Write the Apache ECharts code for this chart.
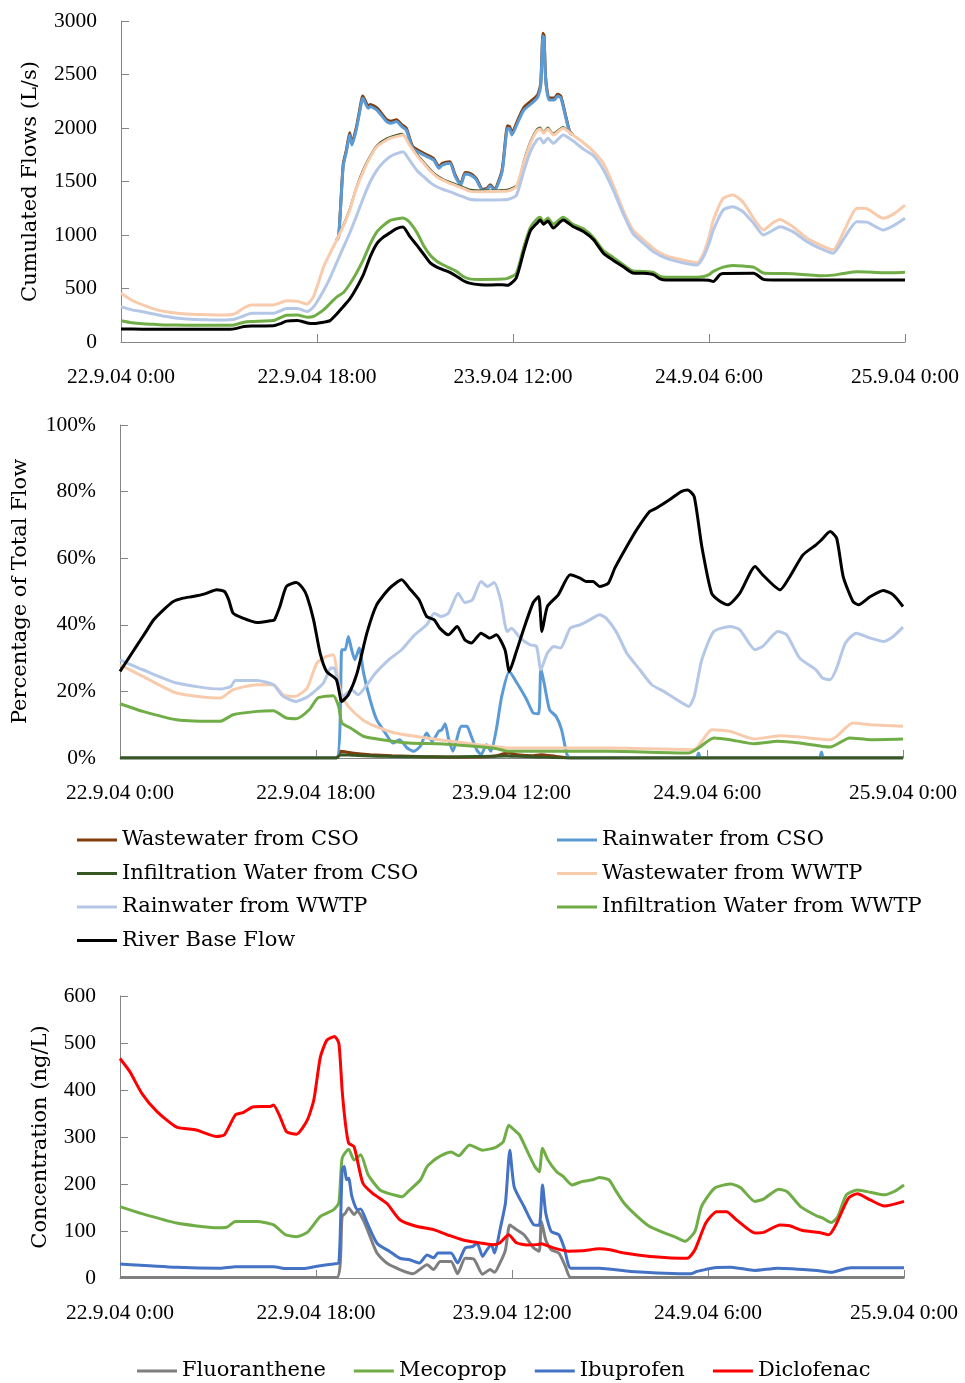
<!DOCTYPE html>
<html>
<head>
<meta charset="utf-8">
<script src="https://cdn.jsdelivr.net/npm/echarts@6/dist/echarts.min.js"></script>
<style>
html,body{margin:0;padding:0;background:#fff;}
#chart{width:965px;height:1383px;}
</style>
</head>
<body>
<div id="chart"></div>
<script>
// ---------- Time axis (hours since 22.9.04 0:00) ----------
const timeTicks = [0, 18, 36, 54, 72];
const timeTickLabels = ['22.9.04 0:00', '22.9.04 18:00', '23.9.04 12:00', '24.9.04 6:00', '25.9.04 0:00'];

// ---------- Panel 1: cumulated flows (L/s), [hour, value] ----------
const riverCum = [[0,121],[2,120],[10,120],[10.5,125],[11.3,145],[12,150],[14,152],[14.6,170],[15.2,195],[16.2,200],[17.1,178],[17.7,172],[18.6,185],[19.2,200],[19.8,260],[20.4,330],[21.0,400],[21.6,500],[22.3,640],[22.9,800],[23.5,920],[24.1,980],[24.7,1020],[25.3,1060],[25.9,1075],[26.5,990],[27.2,900],[27.8,820],[28.4,740],[29.0,700],[29.6,675],[30.2,650],[30.8,615],[31.4,575],[32.0,550],[33,535],[34,533],[35,535],[35.5,530],[36.3,600],[37.0,850],[37.6,1040],[38.2,1110],[38.5,1140],[38.8,1100],[39.2,1130],[39.7,1065],[40.6,1140],[41.5,1080],[42.5,1030],[43.4,955],[44.3,830],[45.2,765],[46.1,705],[47.0,645],[48.0,642],[48.9,630],[49.5,590],[50.1,580],[53.5,580],[54.0,578],[54.4,565],[55.0,630],[55.3,640],[58.1,642],[59.0,585],[59.8,580],[72,580]];
const infWwtpCum = [[0,199],[1,180],[2,170],[3,165],[4,160],[6,157],[10,156],[10.5,162],[11.3,185],[12,192],[14,200],[14.6,225],[15.2,250],[16.2,252],[17.1,232],[17.7,240],[18.6,300],[19.2,360],[19.8,420],[20.4,460],[21.0,540],[21.6,640],[22.3,780],[22.9,920],[23.5,1030],[24.1,1090],[24.7,1135],[25.3,1150],[25.9,1160],[26.5,1120],[27.2,1020],[27.8,900],[28.4,810],[29.0,755],[29.6,720],[30.2,690],[30.8,660],[31.4,615],[32.0,590],[33,585],[35,588],[35.5,595],[36.3,640],[37.0,890],[37.6,1070],[38.2,1150],[38.5,1165],[38.8,1120],[39.2,1160],[39.7,1100],[40.6,1165],[41.5,1100],[42.5,1055],[43.4,975],[44.3,855],[45.2,790],[46.1,725],[47.0,665],[48.0,660],[48.9,650],[49.5,612],[50.1,605],[52.9,605],[53.5,612],[54.0,630],[54.4,660],[55.3,700],[56.2,715],[57.1,710],[58.1,700],[59.0,645],[60.5,640],[61.7,638],[63.0,628],[64.2,620],[65.4,625],[66.3,640],[67.6,657],[68.5,655],[70,648],[71,648],[72,652]];
const rainWwtpCum = [[0,330],[1,300],[2,283],[3,262],[4,240],[5,225],[6,215],[7,210],[8,207],[9,206],[10,208],[10.5,215],[11.3,245],[12,268],[14,268],[14.6,290],[15.2,312],[16.2,312],[17.1,285],[17.7,330],[18.6,480],[19.2,600],[19.8,740],[20.4,880],[21.0,1016],[21.6,1170],[22.3,1358],[22.9,1500],[23.5,1607],[24.1,1680],[24.7,1732],[25.3,1760],[25.9,1779],[26.5,1700],[27.2,1600],[27.8,1545],[28.4,1490],[29.0,1451],[29.6,1425],[30.2,1405],[30.8,1380],[31.4,1358],[32.0,1335],[33,1327],[35,1330],[35.5,1332],[36.3,1370],[37.0,1600],[37.6,1780],[38.2,1890],[38.5,1904],[38.8,1860],[39.2,1904],[39.7,1857],[40.6,1935],[41.5,1880],[42.5,1800],[43.4,1740],[44.3,1610],[45.2,1421],[46.1,1203],[47.0,1016],[48.0,922],[48.9,844],[50.1,782],[51.6,741],[52.9,720],[53.5,797],[54.0,920],[54.4,1047],[55.3,1234],[56.2,1265],[57.1,1220],[58.1,1109],[59.0,1000],[59.8,1040],[60.5,1078],[61.7,1031],[63.0,938],[64.2,875],[65.4,829],[66.3,953],[67.6,1125],[68.5,1120],[70,1047],[71,1090],[72,1156]];
const wwWwtpCum = [[0,455],[1,390],[2,346],[3,310],[4,285],[5,270],[6,262],[7,258],[8,255],[9,252],[10,255],[10.5,265],[11.3,320],[12,346],[14,346],[14.6,365],[15.2,386],[16.2,380],[17.1,355],[17.7,430],[18.6,700],[19.2,830],[19.8,950],[20.4,1080],[21.0,1230],[21.6,1430],[22.3,1607],[22.9,1730],[23.5,1826],[24.1,1870],[24.7,1904],[25.3,1920],[25.9,1935],[26.5,1841],[27.2,1740],[27.8,1670],[28.4,1600],[29.0,1545],[29.6,1510],[30.2,1483],[30.8,1460],[31.4,1436],[32.0,1410],[33,1405],[35,1408],[35.5,1410],[36.3,1450],[37.0,1680],[37.6,1860],[38.2,1975],[38.5,1990],[38.8,1950],[39.2,1990],[39.7,1935],[40.6,1997],[41.5,1935],[42.5,1860],[43.4,1779],[44.3,1670],[45.2,1467],[46.1,1234],[47.0,1047],[48.0,953],[48.9,875],[50.1,804],[51.6,766],[52.9,741],[53.5,829],[54.0,980],[54.4,1140],[55.3,1343],[56.2,1374],[57.1,1311],[58.1,1156],[59.0,1047],[59.8,1110],[60.5,1146],[61.7,1078],[63.0,969],[64.2,907],[65.4,860],[66.3,1016],[67.6,1249],[68.5,1245],[70,1156],[71,1200],[72,1280]];
const infCsoCum = [[19.8,950],[20.0,992],[20.4,1092],[20.7,1162],[21.0,1242],[21.6,1442],[22.2,1602],[22.9,1742],[23.5,1838],[24.4,1902],[25.3,1934],[25.8,1947],[26.2,1902],[26.8,1802],[27.8,1682],[28.7,1582],[29.5,1527],[30.2,1495],[31.2,1457],[32.1,1422],[33.2,1416],[34.3,1417],[35.0,1420],[35.5,1422],[36.4,1472],[37.0,1694],[37.6,1874],[38.2,1990],[38.5,2004],[38.8,1962],[39.2,2004],[39.7,1947],[40.6,2010],[41.2,1960],[41.5,1935]];
const rainCsoCum = [[19.8,950],[20.0,992],[20.4,1638],[20.7,1779],[21.0,1935],[21.2,1841],[21.6,1981],[22.1,2246],[22.2,2277],[22.7,2184],[22.9,2200],[23.5,2168],[24.4,2059],[24.8,2045],[25.3,2060],[25.8,2012],[26.2,1981],[26.8,1810],[27.8,1748],[28.7,1701],[29.2,1623],[29.5,1654],[30.2,1670],[30.7,1545],[31.2,1467],[31.6,1570],[32.1,1560],[32.6,1520],[33.2,1418],[33.6,1425],[33.9,1458],[34.3,1418],[35.0,1592],[35.5,1997],[35.7,1990],[35.9,1935],[36.4,2044],[37.0,2168],[37.9,2246],[38.3,2293],[38.55,2400],[38.75,2860],[38.85,2840],[39.0,2449],[39.3,2262],[39.8,2262],[40.1,2299],[40.4,2280],[40.9,2075],[41.2,1960],[41.5,1935]];
const wwCsoCum = [[19.8,950],[20.0,995],[20.4,1655],[20.7,1795],[21.0,1955],[21.2,1860],[21.6,2000],[22.1,2268],[22.2,2300],[22.7,2205],[22.9,2220],[23.5,2188],[24.4,2078],[24.8,2064],[25.3,2078],[25.8,2030],[26.2,1998],[26.8,1826],[27.8,1764],[28.7,1716],[29.2,1638],[29.5,1669],[30.2,1684],[30.7,1559],[31.2,1480],[31.6,1583],[32.1,1573],[32.6,1532],[33.2,1428],[33.6,1436],[33.9,1470],[34.3,1428],[35.0,1610],[35.5,2020],[35.7,2012],[35.9,1955],[36.4,2065],[37.0,2192],[37.9,2272],[38.3,2318],[38.55,2425],[38.75,2885],[38.85,2865],[39.0,2470],[39.3,2280],[39.8,2280],[40.1,2315],[40.4,2295],[40.9,2088],[41.2,1968],[41.5,1935]];

// ---------- Panel 2: percentage of total flow (%), [hour, value] ----------
const riverPct = [[0,26],[0.8,30],[1.5,33.5],[2.3,37.5],[3.1,41.5],[4.0,44.5],[4.9,47],[5.8,48],[6.7,48.5],[7.8,49.3],[8.9,50.5],[9.6,50],[10.0,47.5],[10.4,43.5],[11.3,42],[12.6,40.7],[13.8,41.2],[14.2,41.5],[14.7,45.5],[15.3,51.5],[16.2,52.7],[16.8,51],[17.2,48.5],[17.8,41.5],[18.4,31.5],[19.0,26],[19.9,23.5],[20.4,17],[21.0,19],[21.8,25.5],[22.7,37.5],[23.6,46],[24.8,51],[25.9,53.5],[26.6,51],[27.5,47.5],[28.2,42.5],[28.9,41.5],[29.4,39],[30.2,37],[31.0,39.5],[31.7,35.5],[32.3,34.5],[33.2,37.5],[34.0,36],[34.6,37],[35.4,32.5],[35.8,26],[36.4,31.5],[37.2,39.5],[38.0,46.7],[38.5,48.5],[38.8,38],[39.3,45.5],[40.3,49],[41.4,55],[42.3,54],[42.9,53],[43.5,53],[44.1,51.5],[44.9,52.5],[45.5,57],[46.6,63.5],[47.5,68.5],[48.7,74],[49.3,75],[50.6,77.7],[51.6,80],[52.2,80.5],[52.8,78.5],[53.5,63.5],[54.4,49.5],[55.2,47],[55.9,46],[57.0,49.5],[58.4,57.5],[59.1,55],[60.7,50.5],[61.6,54.5],[62.8,61],[64.0,64],[64.5,65.5],[65.3,68],[65.9,66],[66.5,54.5],[67.4,47],[67.9,46],[69.0,48.5],[70.2,50.3],[71.1,49],[72,45.5]];
const rainWwtpPct = [[0,29.5],[2.1,26.5],[5.2,22.5],[9.2,20.7],[10.2,21.5],[10.6,23.3],[12.6,23.3],[14.1,22],[15.0,18.5],[16.2,17],[17.3,18.5],[18.7,22.5],[19.4,27],[19.7,27],[20.1,21.5],[20.4,18.5],[20.7,19],[21.3,20.5],[21.9,19],[22.6,21.5],[23.5,25.5],[24.7,29.5],[25.9,32.5],[27.1,37],[28.2,40],[28.9,43.5],[29.5,42.5],[30.2,43.5],[31.1,49.5],[31.7,46.7],[32.4,47.5],[33.2,53],[33.8,51.5],[34.4,52.7],[35.0,47.5],[35.6,38],[36.0,39],[36.8,36],[37.7,34],[38.3,33.5],[38.7,26.5],[39.3,31.5],[39.9,33.5],[40.5,33],[41.4,39],[42.3,40],[43.2,41.5],[44.1,43],[44.7,42],[45.7,37.5],[46.6,31.5],[47.8,26.5],[48.9,22],[50.0,20],[51.2,17.5],[52.3,15.5],[52.8,18.5],[53.5,29.5],[54.6,38],[56.1,39.5],[57.0,38.5],[58.4,32.5],[59.1,33.5],[60.5,38],[61.3,37],[62.5,30],[64.0,26.5],[64.6,24],[65.3,23.5],[65.9,27],[66.7,34.5],[67.7,37.5],[69.0,36],[70.2,35],[71.1,36.5],[72,39.3]];
const wwWwtpPct = [[0,28],[2.1,24.5],[5.2,19.5],[9.2,18],[10.4,20.5],[12.6,22],[14.1,22],[15.0,19],[16.1,18.5],[17.2,21],[18.1,28.5],[19.0,30.5],[19.6,31],[20.1,22.5],[20.4,19],[21.0,15.5],[22.3,11.5],[23.5,9.5],[25.3,7.5],[28.2,6],[31.2,4.7],[34.3,3.5],[35.8,3],[40,3],[45,3],[52.8,2.5],[53.5,5],[54.4,8.5],[56.1,8],[58.3,5.7],[60.7,6.7],[62.5,6.3],[65.3,5.5],[65.9,6.5],[67.4,10.5],[69.0,10],[72,9.5]];
const infWwtpPct = [[0,16.3],[2.1,14],[5.2,11.5],[9.2,11],[10.4,13],[12.6,14],[14.1,14.2],[15.3,12],[16.2,11.8],[17.4,14.5],[18.2,18],[19.6,18.7],[20.1,15.5],[20.4,10.5],[21.2,9],[22.4,6.5],[24.1,5.5],[26.6,4.5],[29.7,4.2],[34.3,3],[35.8,2],[45,2],[52.3,1.5],[53.2,3],[54.6,6],[56.1,5.5],[58.3,4.3],[60.5,5],[62.5,4.5],[65.3,3.3],[67.1,6],[69,5.5],[72,5.7]];
const rainCsoPct = [[0,0],[19.9,0],[20.4,32.5],[20.7,32.5],[21.0,36.5],[21.3,32.5],[21.6,29.5],[22.0,33],[22.4,25.5],[23.0,17.5],[23.6,11.5],[24.4,7.5],[25.1,4.5],[25.7,5.5],[26.4,3],[27.0,2],[27.6,3.5],[28.2,7.5],[28.7,5],[29.3,8],[29.6,8.5],[29.9,10.3],[30.2,6],[30.6,2],[31.4,9.5],[31.9,9.5],[32.3,6.5],[32.8,2.5],[33.2,1],[33.7,4],[34.1,2],[34.6,8.5],[35.1,18.5],[35.8,26],[36.5,22.5],[37.4,17.5],[38.0,13.5],[38.5,13.3],[38.7,27],[39.0,22.5],[39.5,14.5],[40.1,12.5],[40.6,8.5],[41.1,1],[41.4,0],[53.0,0],[53.2,1.5],[53.4,0],[64.3,0],[64.5,1.8],[64.7,0],[72,0]];
const wwCsoPct = [[0,0],[19.9,0],[20.3,2],[20.8,1.8],[21.5,1.4],[23,1],[25,0.7],[28,0.4],[30,0.3],[33,0.3],[34.5,0.6],[35.3,1.3],[35.8,1.5],[36.5,1],[38,0.7],[38.7,1],[40,0.5],[41.4,0],[72,0]];
const infCsoPct = [[0,0],[19.9,0],[20.3,1],[21.5,0.8],[24,0.5],[30,0.3],[35.5,0.6],[36.5,0.5],[38,0.4],[41.4,0],[72,0]];

// ---------- Panel 3: concentrations (ng/L), [hour, value] ----------
const fluoranthene = [[0,1],[19.9,1],[20.4,131],[20.7,138],[21.0,149],[21.5,135],[21.8,142],[22.1,134],[22.6,110],[23.6,53],[24.5,32],[25.7,18],[26.9,9],[28.2,28],[28.8,18],[29.4,35],[30.4,35],[31.0,9],[31.7,42],[32.5,40],[33.3,8],[34.0,18],[34.4,12],[34.9,32],[35.4,60],[35.8,113],[36.4,103],[37.1,92],[38.0,64],[38.5,57],[38.7,120],[39.1,81],[39.6,60],[40.3,53],[40.9,25],[41.4,1],[72,1]];
const mecoprop = [[0,152],[2.0,137],[5.2,117],[8.9,107],[9.8,108],[10.6,120],[12.6,120],[14.1,113],[15.2,92],[16.2,88],[17.2,97],[18.4,131],[19.6,145],[20.1,160],[20.4,255],[21.0,274],[21.5,251],[22.1,262],[22.8,219],[23.9,187],[25.1,177],[25.9,173],[26.5,185],[27.6,209],[28.2,237],[29.1,255],[30.4,268],[31.1,260],[32.1,283],[33.3,272],[34.5,278],[35.2,290],[35.7,325],[36.2,315],[36.7,304],[37.5,265],[38.1,237],[38.5,226],[38.8,276],[39.3,251],[40.1,226],[40.7,216],[41.5,198],[42.4,205],[43.4,209],[44.0,214],[44.9,209],[45.5,187],[46.3,159],[47.5,131],[48.6,110],[50.0,96],[51.2,85],[51.9,78],[52.8,99],[53.4,152],[54.6,191],[56.1,200],[57.0,192],[58.3,163],[59.1,168],[60.5,189],[61.3,183],[62.5,152],[64.0,132],[64.5,128],[65.3,118],[65.9,130],[66.7,177],[67.7,187],[69.0,182],[70.2,177],[71.1,184],[72,198]];
const ibuprofen = [[0,30],[5.2,23],[9.2,21],[10.6,24],[14.1,24],[15.3,20],[16.8,20],[18.1,25],[19.6,30],[20.1,32],[20.4,230],[20.6,237],[20.8,209],[21.0,212],[21.3,173],[21.8,145],[22.1,147],[22.7,117],[23.6,74],[24.8,56],[25.7,42],[26.6,39],[27.5,32],[28.2,49],[28.8,43],[29.2,53],[30.4,53],[31.0,32],[31.7,64],[32.4,67],[32.8,74],[33.3,46],[33.7,60],[34.1,71],[34.4,53],[34.9,103],[35.4,160],[35.8,272],[36.2,194],[37.1,152],[38.0,113],[38.5,112],[38.8,198],[39.1,138],[39.6,99],[40.3,92],[40.8,64],[41.4,21],[44,21],[46.9,14],[52.4,9],[53.0,14],[54.6,22],[56.1,23],[58.3,16],[60.4,21],[64.0,16],[65.3,12],[67.1,22],[72,22]];
const diclofenac = [[0,467],[0.9,439],[2.0,393],[3.4,354],[5.2,321],[7.0,315],[8.9,301],[9.6,305],[10.6,347],[11.3,352],[12.2,364],[13.8,365],[14.1,368],[14.7,343],[15.3,311],[16.2,306],[17.2,336],[17.8,379],[18.4,470],[19.0,506],[19.7,514],[20.1,499],[20.4,400],[20.7,329],[21.0,287],[21.5,279],[22.3,202],[23.2,180],[24.5,159],[25.7,124],[27.2,110],[28.8,103],[30.3,90],[31.5,81],[32.7,76],[34.3,71],[34.9,75],[35.7,92],[36.4,75],[37.4,70],[38.3,71],[38.7,73],[39.8,64],[41.2,57],[42.5,58],[44.0,62],[45,60],[46.3,53],[48.7,46],[52.1,42],[52.8,60],[53.8,117],[54.8,141],[55.7,141],[56.6,124],[58.3,96],[59.1,97],[60.6,113],[61.5,111],[62.7,101],[64.2,97],[65.1,92],[65.7,111],[66.9,170],[67.7,179],[68.9,166],[70.2,153],[72,163]];

// ---------- Names & colours ----------
const flowNames = ['Wastewater from CSO','Rainwater from CSO','Infiltration Water from CSO','Wastewater from WWTP','Rainwater from WWTP','Infiltration Water from WWTP','River Base Flow'];
const flowColors = ['#843C0C','#5B9BD5','#385723','#F8CBAD','#B4C7E7','#70AD47','#000000'];
const chemNames = ['Fluoranthene','Mecoprop','Ibuprofen','Diclofenac'];
const chemColors = ['#7F7F7F','#70AD47','#4472C4','#FF0000'];

const NUM_FONT = 'Liberation Serif';
const TXT_FONT = 'DejaVu Serif';
const AXIS_COLOR = '#858585';

const chart = echarts.init(document.getElementById('chart'), null, {renderer:'canvas'});

function xAxis(gridIndex){
  return {
    type:'value', gridIndex, min:0, max:72, interval:18,
    axisLine:{show:true, lineStyle:{color:AXIS_COLOR, width:1}},
    axisTick:{show:true, inside:true, length:8, lineStyle:{color:AXIS_COLOR}},
    splitLine:{show:false},
    axisLabel:{
      margin:24, color:'#000', fontFamily:NUM_FONT, fontSize:21.5,
      formatter:(v)=>{const i = timeTicks.indexOf(v); return i>=0 ? timeTickLabels[i] : '';}
    }
  };
}
function yAxis(gridIndex, max, interval, name, nameGap, suffix){
  return {
    type:'value', gridIndex, min:0, max, interval,
    name, nameLocation:'middle', nameGap,
    nameTextStyle:{fontFamily:TXT_FONT, fontSize:21, color:'#000'},
    axisLine:{show:true, lineStyle:{color:AXIS_COLOR, width:1}},
    axisTick:{show:true, inside:true, length:8, lineStyle:{color:AXIS_COLOR}},
    splitLine:{show:false},
    axisLabel:{margin:24, color:'#000', fontFamily:NUM_FONT, fontSize:21.5,
      formatter:(v)=>String(Math.round(v)) + suffix}
  };
}
function line(name, data, color, idx, width){
  return {
    type:'line', name, data, xAxisIndex:idx, yAxisIndex:idx,
    showSymbol:false, symbol:'none', smooth:0.2, color,
    lineStyle:{color, width: width || 3},
    emphasis:{disabled:true}, z: 2
  };
}

const flowCum = [wwCsoCum, rainCsoCum, infCsoCum, wwWwtpCum, rainWwtpCum, infWwtpCum, riverCum];
const flowPct = [wwCsoPct, rainCsoPct, infCsoPct, wwWwtpPct, rainWwtpPct, infWwtpPct, riverPct];
const chemData = [fluoranthene, mecoprop, ibuprofen, diclofenac];

const series = [];
flowCum.forEach((d,i)=>series.push(line(flowNames[i], d, flowColors[i], 0, i===2 ? 2 : 3)));
flowPct.forEach((d,i)=>series.push(line(flowNames[i], d, flowColors[i], 1, 3)));
chemData.forEach((d,i)=>series.push(line(chemNames[i], d, chemColors[i], 2, 3)));

const legendText = {fontFamily:TXT_FONT, fontSize:21, color:'#000', lineHeight:24};
const gridBase = {containLabel:false, outerBoundsMode:'none'};

chart.setOption({
  animation:false,
  backgroundColor:'#fff',
  grid:[
    Object.assign({left:121, top:21, width:784, height:321}, gridBase),
    Object.assign({left:120, top:425, width:783, height:333}, gridBase),
    Object.assign({left:120, top:996, width:784, height:282}, gridBase)
  ],
  xAxis:[xAxis(0), xAxis(1), xAxis(2)],
  yAxis:[
    yAxis(0, 3000, 500, 'Cumulated Flows (L/s)', 80, ''),
    yAxis(1, 100, 20, 'Percentage of Total Flow', 89, '%'),
    yAxis(2, 600, 100, 'Concentration (ng/L)', 69, '')
  ],
  legend:[
    {orient:'vertical', left:77, top:828, padding:0, itemGap:9.5, itemWidth:40, itemHeight:3, icon:'rect',
     data:[flowNames[0], flowNames[2], flowNames[4], flowNames[6]], textStyle:legendText, selectedMode:false},
    {orient:'vertical', left:557, top:828, padding:0, itemGap:9.5, itemWidth:40, itemHeight:3, icon:'rect',
     data:[flowNames[1], flowNames[3], flowNames[5]], textStyle:legendText, selectedMode:false},
    {orient:'horizontal', left:137, top:1359, padding:0, itemGap:28, itemWidth:40, itemHeight:3, icon:'rect',
     data:chemNames, textStyle:legendText, selectedMode:false}
  ],
  series
});
</script>
</body>
</html>
